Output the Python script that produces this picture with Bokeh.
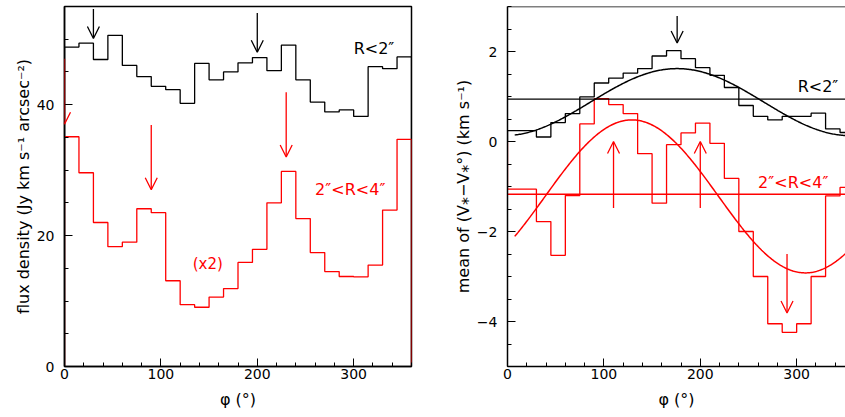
import numpy as np
from bokeh.plotting import figure
from bokeh.layouts import row
from bokeh.models import (SingleIntervalTicker, Arrow, OpenHead, Span, Range1d,
                          ColumnDataSource)
from bokeh.core.properties import value
from bokeh.embed import file_html
from bokeh.resources import INLINE

# ---------------- data ----------------
phi_edges = list(range(0, 361, 15))

flux_inner = [48.8, 49.4, 46.9, 50.6, 46.0, 44.3, 42.8, 42.3, 40.2, 46.3, 43.8, 45.0,
              46.4, 47.2, 45.2, 49.1, 43.8, 40.4, 38.9, 39.2, 38.2, 45.8, 45.5, 47.3]
flux_outer = [35.1, 29.6, 22.0, 18.3, 19.0, 24.1, 23.5, 13.1, 9.45, 9.05, 10.6, 11.9,
              15.9, 17.9, 25.0, 29.8, 22.6, 17.4, 14.5, 13.75, 13.7, 15.5, 23.9, 34.7]

vel_inner = [0.24, 0.24, 0.10, 0.42, 0.62, 0.99, 1.30, 1.41, 1.52, 1.62, 1.90, 2.02,
             1.84, 1.64, 1.47, 1.20, 0.80, 0.56, 0.48, 0.56, 0.56, 0.63, 0.28, 0.20]
vel_outer = [-1.06, -1.06, -1.78, -2.53, -1.20, 0.39, 0.95, 0.82, 0.62, -0.27, -1.37, -0.07,
             0.19, 0.41, -0.04, -0.82, -2.00, -3.00, -4.05, -4.24, -4.05, -3.00, -1.21, -1.02]

# sinusoidal fits: (mean, amplitude, phase of maximum)
fit_inner = (0.875, 0.745, 176.0)
fit_outer = (-1.22, 1.70, 129.0)
fit_range = (7.5, 352.5)

# mean levels (horizontal lines)
mean_inner = 0.94
mean_outer = -1.17

# arrows, left panel
arrows_flux_black = dict(x=[30, 200], y0=[54.6, 54.0], y1=[50.1, 48.0])
arrows_flux_red = dict(x=[0, 90, 230], y0=[47.0, 36.9, 41.9], y1=[37.0, 27.0, 32.0])
# arrows, right panel
arrows_vel_black = dict(x=[176], y0=[2.79], y1=[2.19])
arrows_vel_red = dict(x=[110, 200, 290], y0=[-1.48, -1.48, -2.50], y1=[0.0, 0.0, -3.81])

# labels
labels_flux = dict(x=[300, 260, 133], y=[48.6, 27.0, 15.6],
                   text=["R<2\u2033", "2\u2033<R<4\u2033", "(x2)"],
                   color=["black", "#ff0000", "#ff0000"],
                   size=["16px", "16px", "15px"])
labels_vel = dict(x=[301, 260], y=[1.22, -0.90],
                  text=["R<2\u2033", "2\u2033<R<4\u2033"],
                  color=["black", "#ff0000"],
                  size=["16px", "16px"])

x_title = "\u03c6 (\u00b0)"
y_title_flux = "flux density (Jy km s\u207b\u00b9 arcsec\u207b\u00b2)"
y_title_vel = "mean of (V\u204e\u2212V\u204e\u00b0) (km s\u207b\u00b9)"

RED = "#ff0000"
FONT = "DejaVu Sans"
PX_PER_DEG = 347 / 360


def outline(edges, vals):
    xs = np.repeat(np.array(edges, dtype=float), 2)
    ys = np.concatenate([[0.0], np.repeat(np.array(vals, dtype=float), 2), [0.0]])
    return xs, ys


def style(p, y_interval, y_minor, overrides=None):
    p.xaxis.ticker = SingleIntervalTicker(interval=100, num_minor_ticks=5)
    p.yaxis.ticker = SingleIntervalTicker(interval=y_interval, num_minor_ticks=y_minor)
    for ax in (p.xaxis[0], p.yaxis[0]):
        ax.major_tick_in = 8
        ax.major_tick_out = 0
        ax.minor_tick_in = 4
        ax.minor_tick_out = 0
        ax.major_tick_line_color = "black"
        ax.minor_tick_line_color = "black"
        ax.axis_line_color = "black"
        ax.axis_line_width = 1.5
        ax.major_label_text_font = FONT
        ax.major_label_text_font_size = "14px"
        ax.major_label_text_color = "black"
        ax.axis_label_text_font = FONT
        ax.axis_label_text_font_size = "16px"
        ax.axis_label_text_font_style = "normal"
        ax.axis_label_text_color = "black"
    p.xaxis.major_label_standoff = 2
    p.xaxis.axis_label_standoff = 8
    p.yaxis.major_label_standoff = 10
    p.yaxis.axis_label_standoff = 1
    if overrides:
        p.yaxis.major_label_overrides = overrides
    p.xgrid.visible = False
    p.ygrid.visible = False
    p.background_fill_color = "white"
    p.border_fill_color = "white"


def add_arrows(p, d, color):
    src = ColumnDataSource(d)
    p.add_layout(Arrow(x_start="x", y_start="y0", x_end="x", y_end="y1", source=src,
                       line_color=color, line_width=1.3,
                       end=OpenHead(size=12, line_color=color, line_width=1.3)))


# ---------------- left panel ----------------
p1 = figure(frame_width=347, frame_height=360, x_range=Range1d(0, 360), y_range=Range1d(0, 55),
            output_backend="svg", toolbar_location=None,
            min_border_left=64, min_border_right=10, min_border_top=6, min_border_bottom=50)
style(p1, 20, 4)
p1.xaxis.axis_label = x_title
p1.yaxis.axis_label = y_title_flux
p1.outline_line_color = "black"
p1.outline_line_width = 1.5

xb, yb = outline(phi_edges, flux_inner)
p1.line(xb, yb, line_color="black", line_width=1.3)
xr, yr = outline(phi_edges, flux_outer)
p1.line(xr, yr, line_color=RED, line_width=1.3)
add_arrows(p1, arrows_flux_black, "black")
add_arrows(p1, arrows_flux_red, RED)
p1.text(x="x", y="y", text="text", text_color="color", text_font_size="size",
        source=ColumnDataSource(labels_flux),
        text_font=value(FONT), text_baseline="middle", text_align="left")

# ---------------- right panel ----------------
p2 = figure(frame_width=338, frame_height=360, x_range=Range1d(0, 338 / PX_PER_DEG),
            y_range=Range1d(-5, 3),
            output_backend="svg", toolbar_location=None,
            min_border_left=86, min_border_right=0, min_border_top=6, min_border_bottom=50)
style(p2, 2, 4, overrides={-2: "\u22122", -4: "\u22124"})
p2.xaxis.axis_label = x_title
p2.yaxis.axis_label = y_title_vel
p2.outline_line_color = None
p2.add_layout(Span(location=3, dimension="width", line_color="black", line_width=1.5))

xb, yb = outline(phi_edges, vel_inner)
p2.line(xb, yb, line_color="black", line_width=1.3)
xr, yr = outline(phi_edges, vel_outer)
p2.line(xr, yr, line_color=RED, line_width=1.3)

phi_fit = np.linspace(fit_range[0], fit_range[1], 300)
for (m, a, ph), col in ((fit_inner, "black"), (fit_outer, RED)):
    p2.line(phi_fit, m + a * np.cos(np.radians(phi_fit - ph)), line_color=col, line_width=1.5)

p2.line([0, 360], [mean_inner, mean_inner], line_color="black", line_width=1.2)
p2.line([0, 360], [mean_outer, mean_outer], line_color=RED, line_width=1.5)

add_arrows(p2, arrows_vel_black, "black")
add_arrows(p2, arrows_vel_red, RED)
p2.text(x="x", y="y", text="text", text_color="color", text_font_size="size",
        source=ColumnDataSource(labels_vel),
        text_font=value(FONT), text_baseline="middle", text_align="left")

layout = row(p1, p2)
open("out.html", "w").write(file_html(layout, INLINE))
